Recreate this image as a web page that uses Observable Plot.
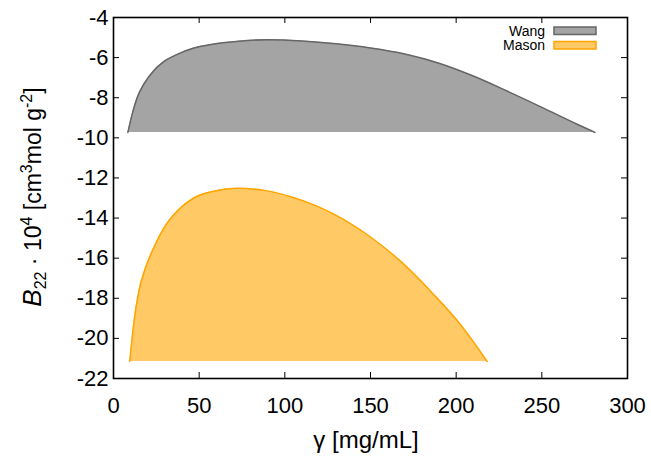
<!DOCTYPE html>
<html>
<head>
<meta charset="utf-8">
<script src="https://cdn.jsdelivr.net/npm/d3@7"></script>
<script src="https://cdn.jsdelivr.net/npm/@observablehq/plot@0.6"></script>
<style>
  html, body { margin: 0; padding: 0; background: #fff; }
  svg { display: block; }
</style>
</head>
<body>
<div id="chart"></div>
<script>
// ---- data ----
const wangX = [8.4, 10.9, 13.8, 17.7, 23.5, 29.4, 37.2, 46.9, 58.6, 73, 90, 110, 130, 150, 170, 190, 210, 230, 250, 270, 281];
const wangY = [-9.73, -8.82, -8.0, -7.32, -6.65, -6.2, -5.84, -5.52, -5.32, -5.18, -5.11, -5.17, -5.31, -5.52, -5.82, -6.28, -6.92, -7.68, -8.48, -9.3, -9.73];
const wangBase = -9.73;

const masonX = [9.5, 10.5, 11.9, 14.8, 18.7, 23.5, 29.4, 37.2, 46.9, 58.6, 72.5, 88, 104, 118, 128.6, 148, 167.5, 187, 202.6, 218.1];
const masonY = [-21.15, -20.3, -19.2, -17.65, -16.48, -15.48, -14.5, -13.65, -13.0, -12.66, -12.52, -12.62, -12.95, -13.38, -13.8, -14.82, -16.15, -17.82, -19.32, -21.15];
const masonBase = -21.15;

const xTicks = [0, 50, 100, 150, 200, 250, 300];
const yTicks = [-22, -20, -18, -16, -14, -12, -10, -8, -6, -4];
const seriesNames = ["Wang", "Mason"];

const wang = wangX.map((x, i) => ({x, y: wangY[i]}));
const mason = masonX.map((x, i) => ({x, y: masonY[i]}));

// ---- styles ----
const W = 651, H = 461;
const mL = 113, mT = 17, mR = 24, mB = 83;
const frameW = W - mL - mR, frameH = H - mT - mB;
const grayFill = "#a4a4a4", grayStroke = "#666666";
const orFill = "#ffc966", orStroke = "#ffa500";
const font = "'Liberation Sans', Arial, Helvetica, sans-serif";
const fmt = d => String(d);

const plot = Plot.plot({
  width: W, height: H,
  marginLeft: mL, marginTop: mT, marginRight: mR, marginBottom: mB,
  style: {fontFamily: font, fontSize: "22px", color: "#000", background: "#fff"},
  x: {domain: [0, 300]},
  y: {domain: [-22, -4]},
  marks: [
    Plot.areaY(wang, {x: "x", y1: wangBase, y2: "y", fill: grayFill, curve: "monotone-x"}),
    Plot.lineY(wang, {x: "x", y: "y", stroke: grayStroke, strokeWidth: 1.5, curve: "monotone-x"}),
    Plot.areaY(mason, {x: "x", y1: masonBase, y2: "y", fill: orFill, curve: "monotone-x"}),
    Plot.lineY(mason, {x: "x", y: "y", stroke: orStroke, strokeWidth: 1.5, curve: "monotone-x"}),
    // inward ticks on all four sides
    Plot.tickX(xTicks, {x: d => d, stroke: "#000", strokeWidth: 1, insetTop: frameH - 6}),
    Plot.tickX(xTicks, {x: d => d, stroke: "#000", strokeWidth: 1, insetBottom: frameH - 6}),
    Plot.tickY(yTicks, {y: d => d, stroke: "#000", strokeWidth: 1, insetRight: frameW - 6}),
    Plot.tickY(yTicks, {y: d => d, stroke: "#000", strokeWidth: 1, insetLeft: frameW - 6}),
    Plot.axisX({ticks: xTicks, tickSize: 0, tickPadding: 19, tickFormat: fmt, label: null, fontSize: 22}),
    Plot.axisY({ticks: yTicks, tickSize: 0, tickPadding: 5, tickFormat: fmt, label: null, fontSize: 22}),
    Plot.frame({stroke: "#000", strokeWidth: 1.6})
  ]
});

const svg = d3.select(plot);

// x axis label
svg.append("text")
  .attr("x", 366).attr("y", 448)
  .attr("text-anchor", "middle")
  .attr("font-family", font).attr("font-size", 24).attr("fill", "#000")
  .text("γ [mg/mL]");

// y axis label with sub/superscripts
const yl = svg.append("text")
  .attr("transform", `translate(41,197) rotate(-90)`)
  .attr("text-anchor", "middle")
  .attr("font-family", font).attr("font-size", 23).attr("fill", "#000");
yl.append("tspan").attr("font-style", "italic").attr("font-size", 26).text("B");
yl.append("tspan").attr("font-size", 16).attr("dy", 5).text("22");
yl.append("tspan").attr("dy", -5).text(" · 10");
yl.append("tspan").attr("font-size", 16).attr("dy", -9).text("4");
yl.append("tspan").attr("dy", 9).text(" [cm");
yl.append("tspan").attr("font-size", 16).attr("dy", -9).text("3");
yl.append("tspan").attr("dy", 9).text("mol g");
yl.append("tspan").attr("font-size", 16).attr("dy", -9).text("-2");
yl.append("tspan").attr("dy", 9).text("]");

// legend (inside top-right of frame)
const legend = [
  {name: seriesNames[0], fill: grayFill, stroke: grayStroke, cy: 30.5},
  {name: seriesNames[1], fill: orFill, stroke: orStroke, cy: 45}
];
const right = W - mR;
legend.forEach(l => {
  svg.append("text")
    .attr("x", right - 82).attr("y", l.cy + 5)
    .attr("text-anchor", "end")
    .attr("font-family", font).attr("font-size", 14).attr("fill", "#000")
    .text(l.name);
  svg.append("rect")
    .attr("x", right - 73).attr("y", l.cy - 3.5)
    .attr("width", 42).attr("height", 7.5)
    .attr("fill", l.fill).attr("stroke", l.stroke).attr("stroke-width", 1.5);
});

document.getElementById("chart").appendChild(plot);
</script>
</body>
</html>
